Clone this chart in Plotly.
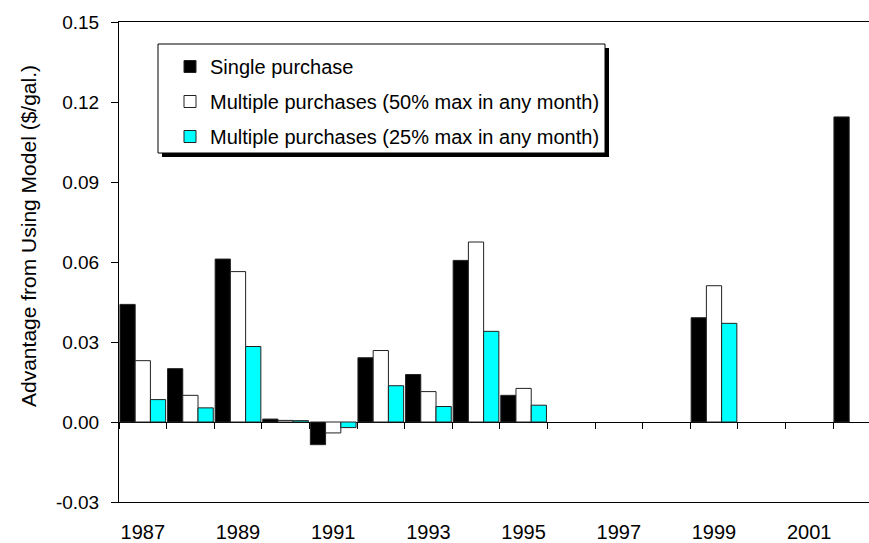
import plotly.graph_objects as go

years = list(range(1987, 2003))
single = [0.0441, 0.0200, 0.0611, 0.0011, -0.0085, 0.0241, 0.0178, 0.0606, 0.0100,
          None, None, None, 0.0391, None, None, 0.1144]
multi50 = [0.0230, 0.0100, 0.0564, 0.0006, -0.0041, 0.0268, 0.0114, 0.0675, 0.0126,
           None, None, None, 0.0511, None, None, None]
multi25 = [0.0084, 0.0053, 0.0283, 0.0005, -0.0021, 0.0136, 0.0058, 0.0340, 0.0063,
           None, None, None, 0.0370, None, None, None]
names = ["Single purchase",
         "Multiple purchases (50% max in any month)",
         "Multiple purchases (25% max in any month)"]
label_years = [1987, 1989, 1991, 1993, 1995, 1997, 1999, 2001]
y_ticks = [-0.03, 0.0, 0.03, 0.06, 0.09, 0.12, 0.15]

W, H = 869, 543
L, T, B = 119, 22, 41
plot_w = W - L
plot_h = H - T - B
cat_px = 47.6
x_lo = years[0] - 0.5
x_hi = x_lo + plot_w / cat_px


def px_x(p):
    return (p - L) / plot_w


def px_y(p):
    return (H - B - p) / plot_h


fig = go.Figure()
for i, (vals, color, nm) in enumerate(zip([single, multi50, multi25],
                                           ["#000000", "#FFFFFF", "#00FFFF"], names)):
    fig.add_trace(go.Bar(x=years, y=vals, name=nm, legendgroup=f"g{i}",
                         marker=dict(color=color, line=dict(color="#222222", width=1))))

# overlay axis for category boundary ticks at the zero line
fig.add_trace(go.Scatter(x=[years[0]], y=[None], xaxis="x2", showlegend=False,
                         hoverinfo="skip"))

# legend box with drop shadow
fig.add_shape(type="rect", xref="paper", yref="paper",
              x0=px_x(162), x1=px_x(609), y0=px_y(157), y1=px_y(48),
              fillcolor="black", line=dict(width=0), layer="above")
fig.add_shape(type="rect", xref="paper", yref="paper",
              x0=px_x(158), x1=px_x(605), y0=px_y(153), y1=px_y(44),
              fillcolor="white", line=dict(color="black", width=1), layer="above")

fig.update_layout(
    width=W, height=H,
    margin=dict(l=L, r=0, t=T, b=B, autoexpand=False),
    paper_bgcolor="white", plot_bgcolor="white",
    barmode="group", bargap=0.04, bargroupgap=0,
    font=dict(family="Liberation Sans, Arial, sans-serif", color="black", size=19),
    xaxis=dict(range=[x_lo, x_hi], tickmode="array", tickvals=label_years,
               ticktext=[str(y) for y in label_years],
               ticks="outside", ticklen=12, tickcolor="rgba(0,0,0,0)",
               tickfont=dict(size=20), automargin=False,
               showline=True, linecolor="black", linewidth=1, mirror=True,
               showgrid=False, zeroline=False),
    xaxis2=dict(range=[x_lo, x_hi], overlaying="x", anchor="free",
                position=0.03 / 0.18, side="bottom", automargin=False,
                tickmode="linear", tick0=x_lo, dtick=1, ticks="outside",
                ticklen=6, tickcolor="black", showticklabels=False,
                showline=False, showgrid=False, zeroline=False),
    yaxis=dict(range=[-0.03, 0.15], tickmode="array", tickvals=y_ticks,
               ticktext=[f"{v:.2f}" for v in y_ticks],
               ticks="outside", ticklen=7, tickcolor="black",
               ticklabelstandoff=8, automargin=False,
               showline=True, linecolor="black", linewidth=1, mirror=False,
               showgrid=False, zeroline=True, zerolinecolor="black",
               zerolinewidth=1),
    legend=dict(x=px_x(170), y=px_y(47), xanchor="left",
                yanchor="top", bgcolor="rgba(0,0,0,0)", borderwidth=0,
                font=dict(size=20), traceorder="grouped",
                tracegroupgap=6, itemwidth=30),
    showlegend=True,
)

fig.add_annotation(text="Advantage from Using Model ($/gal.)", textangle=-90,
                   xref="paper", yref="paper", x=px_x(28),
                   y=px_y(236), xanchor="center", yanchor="middle",
                   showarrow=False, font=dict(size=21))

fig.write_html("out.html", config={"displayModeBar": False},
               post_script="document.body.style.margin='0';"
                           "document.body.style.overflow='hidden';"
                           "document.documentElement.style.overflow='hidden';")
